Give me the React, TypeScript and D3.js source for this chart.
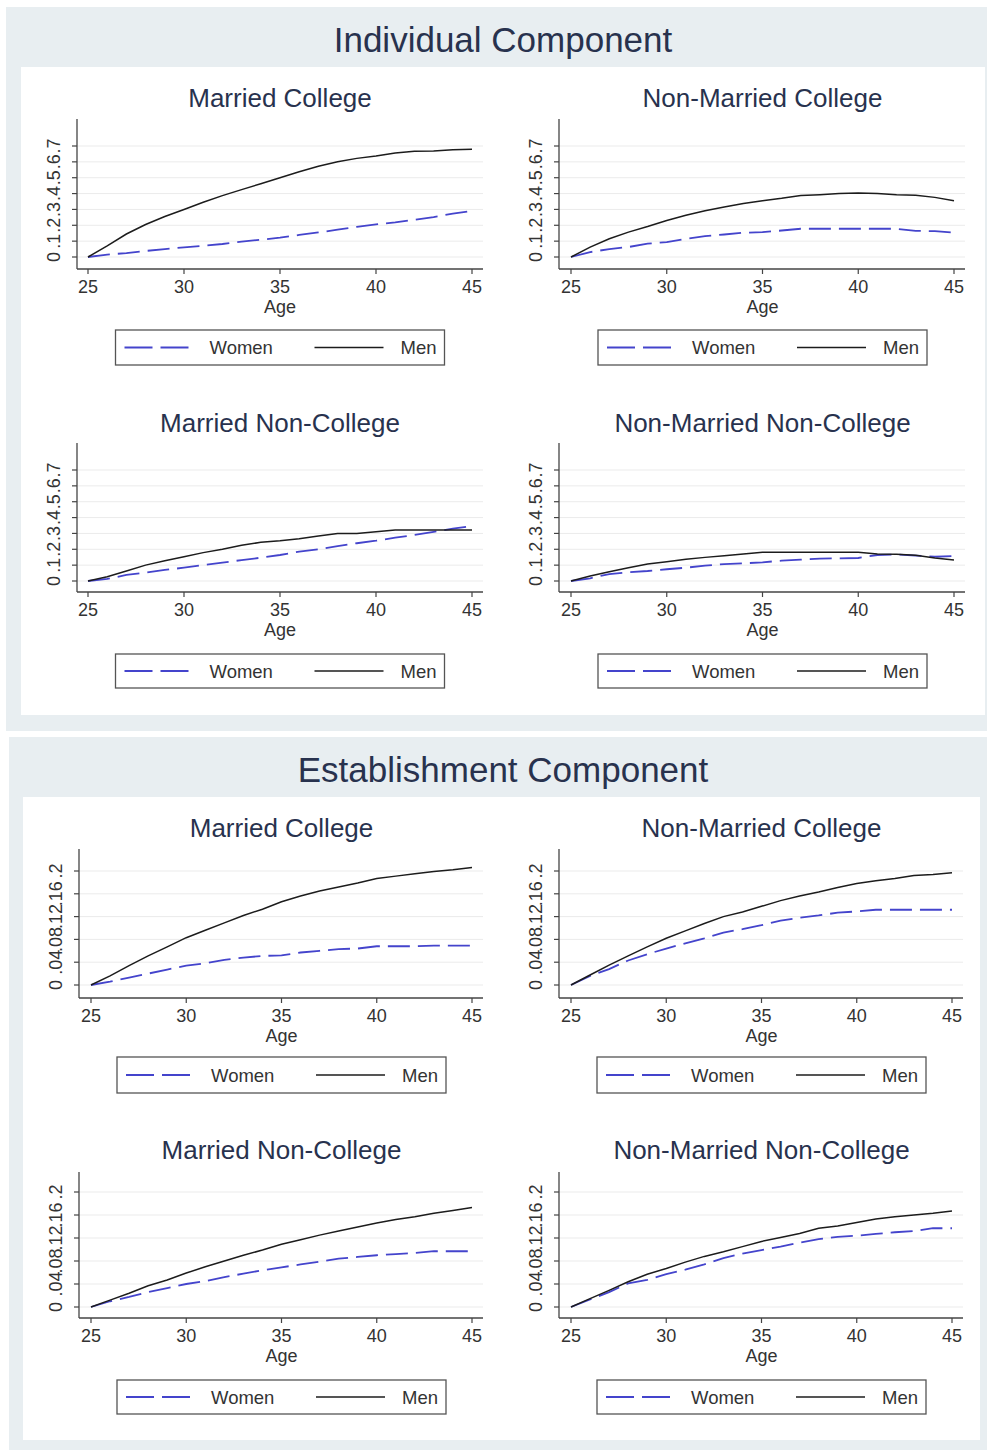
import React from "react";
import * as d3 from "d3";

// ---------- data ----------
const ages = [25, 26, 27, 28, 29, 30, 31, 32, 33, 34, 35, 36, 37, 38, 39, 40, 41, 42, 43, 44, 45];
const xTicks = [25, 30, 35, 40, 45];
const yTicksInd = [0, 0.1, 0.2, 0.3, 0.4, 0.5, 0.6, 0.7];
const yTickLabelsInd = ["0", ".1", ".2", ".3", ".4", ".5", ".6", ".7"];
const yTicksEst = [0, 0.04, 0.08, 0.12, 0.16, 0.2];
const yTickLabelsEst = ["0", ".04", ".08", ".12", ".16", ".2"];
const sectionTitles = ["Individual Component", "Establishment Component"];
const panelTitles = ["Married College", "Non-Married College", "Married Non-College", "Non-Married Non-College"];
const legendLabels = ["Women", "Men"];

// Individual component
const indMarColMen = [0, 0.07, 0.145, 0.205, 0.255, 0.3, 0.345, 0.387, 0.425, 0.462, 0.5, 0.538, 0.572, 0.6, 0.622, 0.637, 0.656, 0.667, 0.668, 0.676, 0.679];
const indMarColWomen = [0, 0.015, 0.025, 0.038, 0.05, 0.061, 0.071, 0.082, 0.097, 0.109, 0.122, 0.139, 0.155, 0.172, 0.19, 0.206, 0.218, 0.235, 0.252, 0.273, 0.29];
const indNonMarColMen = [0, 0.062, 0.115, 0.157, 0.192, 0.23, 0.263, 0.292, 0.316, 0.337, 0.355, 0.37, 0.388, 0.393, 0.4, 0.403, 0.4, 0.392, 0.39, 0.376, 0.355];
const indNonMarColWomen = [0, 0.031, 0.05, 0.063, 0.084, 0.094, 0.115, 0.132, 0.142, 0.153, 0.157, 0.167, 0.178, 0.178, 0.178, 0.178, 0.178, 0.178, 0.165, 0.163, 0.153];
const indMarNonColMen = [0, 0.027, 0.063, 0.1, 0.128, 0.153, 0.179, 0.2, 0.225, 0.244, 0.254, 0.267, 0.284, 0.3, 0.3, 0.31, 0.322, 0.322, 0.322, 0.322, 0.322];
const indMarNonColWomen = [0, 0.013, 0.038, 0.053, 0.07, 0.084, 0.1, 0.116, 0.132, 0.147, 0.164, 0.185, 0.2, 0.22, 0.238, 0.254, 0.273, 0.29, 0.31, 0.33, 0.347];
const indNonMarNonColMen = [0, 0.032, 0.059, 0.084, 0.107, 0.122, 0.137, 0.149, 0.16, 0.17, 0.181, 0.181, 0.181, 0.181, 0.181, 0.181, 0.17, 0.168, 0.162, 0.145, 0.132];
const indNonMarNonColWomen = [0, 0.017, 0.044, 0.055, 0.063, 0.074, 0.084, 0.097, 0.107, 0.111, 0.118, 0.128, 0.135, 0.141, 0.143, 0.145, 0.164, 0.168, 0.16, 0.153, 0.158];

// Establishment component
const estMarColMen = [0, 0.016, 0.034, 0.051, 0.067, 0.083, 0.096, 0.109, 0.122, 0.133, 0.146, 0.156, 0.165, 0.172, 0.179, 0.187, 0.191, 0.195, 0.199, 0.202, 0.206];
const estMarColWomen = [0, 0.006, 0.013, 0.02, 0.027, 0.034, 0.038, 0.044, 0.048, 0.051, 0.052, 0.057, 0.06, 0.063, 0.064, 0.068, 0.068, 0.068, 0.069, 0.069, 0.069];
const estNonMarColMen = [0, 0.0175, 0.035, 0.051, 0.067, 0.082, 0.095, 0.108, 0.12, 0.128, 0.138, 0.148, 0.156, 0.163, 0.171, 0.178, 0.183, 0.187, 0.192, 0.194, 0.197];
const estNonMarColWomen = [0, 0.016, 0.028, 0.043, 0.054, 0.064, 0.073, 0.082, 0.092, 0.098, 0.105, 0.113, 0.118, 0.122, 0.127, 0.129, 0.132, 0.132, 0.132, 0.132, 0.132];
const estMarNonColMen = [0, 0.012, 0.024, 0.037, 0.047, 0.059, 0.07, 0.08, 0.09, 0.099, 0.109, 0.117, 0.125, 0.132, 0.139, 0.146, 0.152, 0.157, 0.163, 0.168, 0.173];
const estMarNonColWomen = [0, 0.01, 0.0175, 0.026, 0.033, 0.04, 0.045, 0.052, 0.058, 0.064, 0.069, 0.074, 0.079, 0.084, 0.087, 0.09, 0.092, 0.094, 0.097, 0.097, 0.097];
const estNonMarNonColMen = [0, 0.0146, 0.029, 0.044, 0.057, 0.067, 0.078, 0.088, 0.096, 0.105, 0.114, 0.121, 0.128, 0.137, 0.141, 0.147, 0.153, 0.157, 0.16, 0.163, 0.167];
const estNonMarNonColWomen = [0, 0.013, 0.026, 0.041, 0.047, 0.057, 0.065, 0.074, 0.085, 0.093, 0.099, 0.105, 0.112, 0.118, 0.122, 0.124, 0.127, 0.13, 0.132, 0.137, 0.137];

// ---------- layout ----------
const FONT = "'Liberation Sans', Arial, Helvetica, sans-serif";
const TITLE_COLOR = "#28324e";
const TEXT_COLOR = "#333333";
const WOMEN_COLOR = "#4444cc";
const MEN_COLOR = "#1c1c1c";
const BG = "#e8eef1";

type ColLayout = { axisX: number; x0: number; x1: number; axisEnd: number };
type RowLayout = { top: number; y0: number; yMaxPx: number; xAxisY: number; titleY: number; legTop: number; legH: number };

const sections = [
  {
    title: sectionTitles[0],
    outer: { x: 6, y: 7, w: 981, h: 724 },
    inner: { x: 21, y: 67, w: 964, h: 648 },
    titleY: 52,
    yTicks: yTicksInd,
    yLabels: yTickLabelsInd,
    cols: [
      { axisX: 77, x0: 88, x1: 472, axisEnd: 483 },
      { axisX: 559, x0: 571, x1: 954, axisEnd: 965 },
    ] as ColLayout[],
    rows: [
      { top: 119, y0: 257, yMaxPx: 146, xAxisY: 269, titleY: 98, legTop: 330, legH: 35 },
      { top: 443, y0: 581, yMaxPx: 470, xAxisY: 592, titleY: 423, legTop: 654, legH: 34 },
    ] as RowLayout[],
    series: [
      [indMarColWomen, indMarColMen],
      [indNonMarColWomen, indNonMarColMen],
      [indMarNonColWomen, indMarNonColMen],
      [indNonMarNonColWomen, indNonMarNonColMen],
    ],
  },
  {
    title: sectionTitles[1],
    outer: { x: 9, y: 737, w: 978, h: 713 },
    inner: { x: 23, y: 797, w: 957, h: 643 },
    titleY: 782,
    yTicks: yTicksEst,
    yLabels: yTickLabelsEst,
    cols: [
      { axisX: 79, x0: 91, x1: 472, axisEnd: 483 },
      { axisX: 559, x0: 571, x1: 952, axisEnd: 963 },
    ] as ColLayout[],
    rows: [
      { top: 849, y0: 985, yMaxPx: 871, xAxisY: 998, titleY: 828, legTop: 1057, legH: 36 },
      { top: 1172, y0: 1307, yMaxPx: 1192, xAxisY: 1318, titleY: 1150, legTop: 1380, legH: 34 },
    ] as RowLayout[],
    series: [
      [estMarColWomen, estMarColMen],
      [estNonMarColWomen, estNonMarColMen],
      [estMarNonColWomen, estMarNonColMen],
      [estNonMarNonColWomen, estNonMarNonColMen],
    ],
  },
];

function Panel({ sec, pi }: { sec: any; pi: number }) {
  const col: ColLayout = sec.cols[pi % 2];
  const row: RowLayout = sec.rows[Math.floor(pi / 2)];
  const yTicks: number[] = sec.yTicks;
  const yMax = yTicks[yTicks.length - 1];
  const x = d3.scaleLinear().domain([25, 45]).range([col.x0, col.x1]);
  const y = d3.scaleLinear().domain([0, yMax]).range([row.y0, row.yMaxPx]);
  const line = d3
    .line<number>()
    .x((_, i) => x(ages[i]))
    .y((d) => y(d));
  const [women, men] = sec.series[pi];
  const xmid = (col.x0 + col.x1) / 2;
  const legW = 329;
  const legL = xmid - legW / 2;
  const legCY = row.legTop + row.legH / 2;
  return (
    <g>
      <text x={xmid} y={row.titleY + 9} textAnchor="middle" fontSize={26} fill={TITLE_COLOR} fontFamily={FONT}>
        {panelTitles[pi]}
      </text>
      {yTicks.map((t) => (
        <line key={"g" + t} x1={col.axisX} x2={col.axisEnd} y1={y(t)} y2={y(t)} stroke="#ebebeb" strokeWidth={1} />
      ))}
      <line x1={col.axisX} x2={col.axisX} y1={row.top} y2={row.xAxisY} stroke="#444" strokeWidth={1.3} />
      {yTicks.map((t, i) => (
        <g key={"y" + t}>
          <line x1={col.axisX - 5} x2={col.axisX} y1={y(t)} y2={y(t)} stroke="#444" strokeWidth={1.2} />
          <text
            transform={`translate(${col.axisX - 17},${y(t)}) rotate(-90)`}
            textAnchor="middle"
            fontSize={18}
            fill={TEXT_COLOR}
            fontFamily={FONT}
          >
            {sec.yLabels[i]}
          </text>
        </g>
      ))}
      <line x1={col.axisX} x2={col.axisEnd} y1={row.xAxisY} y2={row.xAxisY} stroke="#444" strokeWidth={1.3} />
      {xTicks.map((t) => (
        <g key={"x" + t}>
          <line x1={x(t)} x2={x(t)} y1={row.xAxisY} y2={row.xAxisY + 5} stroke="#444" strokeWidth={1.2} />
          <text x={x(t)} y={row.xAxisY + 24} textAnchor="middle" fontSize={18} fill={TEXT_COLOR} fontFamily={FONT}>
            {t}
          </text>
        </g>
      ))}
      <text x={xmid} y={row.xAxisY + 44} textAnchor="middle" fontSize={18} fill={TEXT_COLOR} fontFamily={FONT}>
        Age
      </text>
      <path d={line(women) || ""} fill="none" stroke={WOMEN_COLOR} strokeWidth={1.8} strokeDasharray="22 8" />
      <path d={line(men) || ""} fill="none" stroke={MEN_COLOR} strokeWidth={1.5} />
      <rect x={legL} y={row.legTop} width={legW} height={row.legH} fill="white" stroke="#555" strokeWidth={1.3} />
      <line x1={legL + 9} x2={legL + 75} y1={legCY} y2={legCY} stroke={WOMEN_COLOR} strokeWidth={1.8} strokeDasharray="28 8" />
      <text x={legL + 94} y={legCY + 6.5} fontSize={18.5} fill={TEXT_COLOR} fontFamily={FONT}>
        {legendLabels[0]}
      </text>
      <line x1={legL + 199} x2={legL + 268} y1={legCY} y2={legCY} stroke={MEN_COLOR} strokeWidth={1.5} />
      <text x={legL + 285} y={legCY + 6.5} fontSize={18.5} fill={TEXT_COLOR} fontFamily={FONT}>
        {legendLabels[1]}
      </text>
    </g>
  );
}

export default function App() {
  return (
    <div style={{ position: "absolute", left: 0, top: 0 }}>
      <svg width={987} height={1450} style={{ display: "block", background: "white" }}>
        {sections.map((sec, si) => (
          <g key={si}>
            <rect x={sec.outer.x} y={sec.outer.y} width={sec.outer.w} height={sec.outer.h} fill={BG} />
            <rect x={sec.inner.x} y={sec.inner.y} width={sec.inner.w} height={sec.inner.h} fill="#ffffff" />
            <text x={503} y={sec.titleY} textAnchor="middle" fontSize={35} fill={TITLE_COLOR} fontFamily={FONT}>
              {sec.title}
            </text>
            {[0, 1, 2, 3].map((pi) => (
              <Panel key={pi} sec={sec} pi={pi} />
            ))}
          </g>
        ))}
      </svg>
    </div>
  );
}
